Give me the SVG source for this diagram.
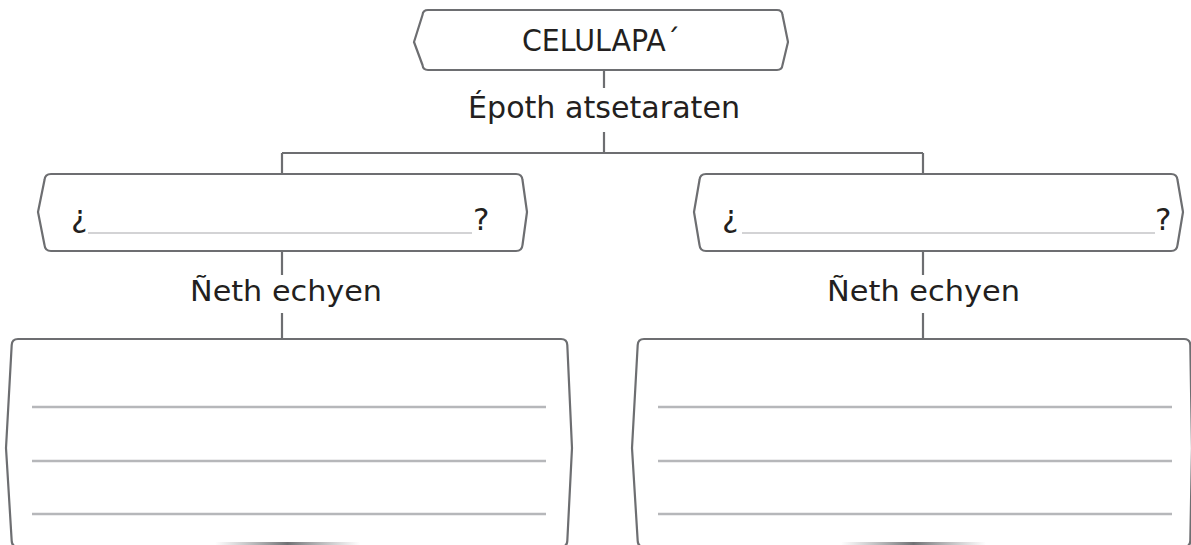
<svg xmlns="http://www.w3.org/2000/svg" width="1191" height="545" viewBox="0 0 1191 545">
<defs>
<style>
.box{fill:#fff;stroke:#6d6e71;stroke-width:2.2;stroke-linejoin:round}
.con{fill:none;stroke:#6d6e71;stroke-width:2.2}
.rule{stroke:#b6b7ba;stroke-width:2.4}
.under{stroke:#c4c5c7;stroke-width:1.3}
.t{font-family:"DejaVu Sans","Liberation Sans",sans-serif;fill:#231f20}
</style>
<linearGradient id="sh" x1="0" x2="1" y1="0" y2="0">
<stop offset="0" stop-color="#8a8b8e" stop-opacity="0"/>
<stop offset="0.5" stop-color="#707174" stop-opacity="1"/>
<stop offset="1" stop-color="#8a8b8e" stop-opacity="0"/>
</linearGradient>
</defs>
<rect width="1191" height="545" fill="#fff"/>
<g id="connectors">
<path class="con" d="M604,70 V88 M604,132 V153 M282,153 H923 M282,153 V174 M923,153 V174"/>
<path class="con" d="M282,251 V275 M282,313 V339 M923,251 V275 M923,313 V339"/>
</g>
<g id="node-celulapa">
<path class="box" d="M428,10 H777 Q782,10 782.5,15 L788,42 L782.5,65 Q782,70 777,70 H428 Q423,70 422.5,65 L414,42 L422.5,15 Q423,10 428,10 Z"/>
<text class="t" x="522" y="51" font-size="30" textLength="158" lengthAdjust="spacingAndGlyphs">CELULAPA´</text>
</g>
<g id="label-epoth">
<text class="t" x="468" y="118" font-size="30" textLength="272" lengthAdjust="spacingAndGlyphs">Époth atsetaraten</text>
</g>
<g id="node-q-left">
<path class="box" d="M51,174 H516 Q522,174 522.5,180 L527,212 L522.5,245 Q522,251 516,251 H51 Q45,251 44.5,245 L38,212 L44.5,180 Q45,174 51,174 Z"/>
<text class="t" x="71" y="227" font-size="31">¿</text>
<line class="under" x1="88" y1="233" x2="472" y2="233"/>
<text class="t" x="473" y="230" font-size="31">?</text>
</g>
<g id="node-q-right">
<path class="box" d="M706,174 H1171 Q1177,174 1177.5,180 L1183,212 L1177.5,245 Q1177,251 1171,251 H706 Q700,251 699.5,245 L694,212 L699.5,180 Q700,174 706,174 Z"/>
<text class="t" x="722" y="227" font-size="31">¿</text>
<line class="under" x1="742" y1="233" x2="1155" y2="233"/>
<text class="t" x="1155" y="230" font-size="31">?</text>
</g>
<g id="label-neth-left">
<text class="t" x="190" y="301" font-size="28" textLength="192" lengthAdjust="spacingAndGlyphs">Ñeth echyen</text>
</g>
<g id="label-neth-right">
<text class="t" x="827" y="301" font-size="28" textLength="193" lengthAdjust="spacingAndGlyphs">Ñeth echyen</text>
</g>
<g id="node-lines-left">
<path class="box" d="M18,339 H561 Q567,339 567.3,345 L572,448 L567.3,541 Q567,547 561,547 H18 Q12,547 11.7,541 L6,448 L11.7,345 Q12,339 18,339 Z"/>
<line class="rule" x1="32" y1="407" x2="546" y2="407"/>
<line class="rule" x1="32" y1="461" x2="546" y2="461"/>
<line class="rule" x1="32" y1="514" x2="546" y2="514"/>
<rect x="215" y="542" width="145" height="3" fill="url(#sh)"/>
</g>
<g id="node-lines-right">
<path class="box" d="M644,339 H1184 Q1190,339 1190.3,345 L1192,448 L1190.3,541 Q1190,547 1184,547 H644 Q638,547 637.7,541 L632,448 L637.7,345 Q638,339 644,339 Z"/>
<line class="rule" x1="658" y1="407" x2="1172" y2="407"/>
<line class="rule" x1="658" y1="461" x2="1172" y2="461"/>
<line class="rule" x1="658" y1="514" x2="1172" y2="514"/>
<rect x="841" y="542" width="145" height="3" fill="url(#sh)"/>
</g>
</svg>
